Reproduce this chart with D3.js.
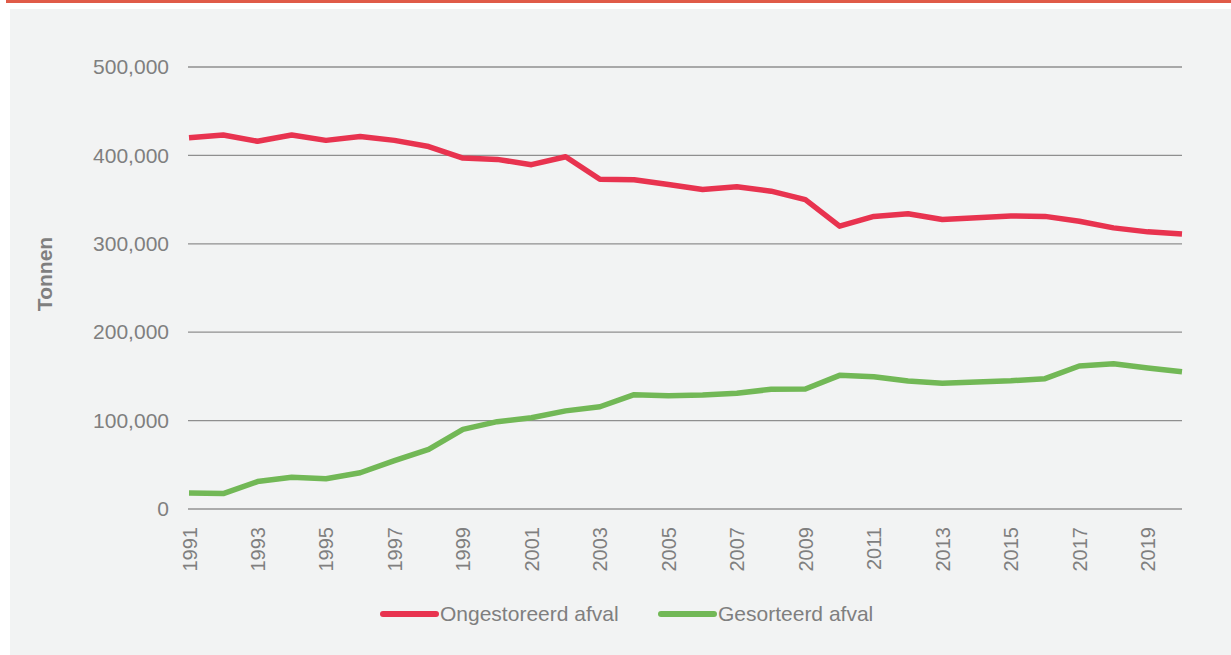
<!DOCTYPE html>
<html>
<head>
<meta charset="utf-8">
<script src="https://cdnjs.cloudflare.com/ajax/libs/d3/7.8.5/d3.min.js"></script>
<style>
  body { margin: 0; background: #ffffff; }
  svg { display: block; font-family: "Liberation Sans", Arial, sans-serif; }
</style>
</head>
<body>
<svg id="chart" width="1231" height="655"></svg>
<script>
// data (tonnes)
var years = d3.range(1991, 2021);
var ongestoreerd = [420000, 423000, 416000, 423000, 417000, 421500, 417000, 410000, 397000, 395500,
                    389500, 398500, 373000, 372500, 367000, 361500, 364500, 359500, 350000, 320000,
                    331000, 334000, 327500, 329500, 331500, 331000, 325500, 318000, 313500, 311000];
var gesorteerd = [18000, 17500, 31000, 36000, 34300, 41000, 54700, 67500, 90000, 98800,
                  103300, 111000, 115700, 129300, 128200, 129000, 131000, 135400, 135700, 151200,
                  149700, 144800, 142200, 143700, 145100, 147400, 161800, 164400, 159500, 155300];
var yTicks = [0, 100000, 200000, 300000, 400000, 500000];
var xTickLabels = d3.range(1991, 2020, 2);
var seriesNames = ['Ongestoreerd afval', 'Gesorteerd afval'];
var seriesColors = ['#e8334f', '#72b856'];

var svg = d3.select('#chart');

// frame: red bar on top, light panel
svg.append('rect').attr('x', 6).attr('y', 0).attr('width', 1225).attr('height', 3).attr('fill', '#e05b48');
svg.append('rect').attr('x', 10).attr('y', 9).attr('width', 1221).attr('height', 646).attr('fill', '#f2f3f3');

var x = d3.scaleLinear().domain([1991, 2020]).range([189, 1182]);
var y = d3.scaleLinear().domain([0, 500000]).range([509, 67]);

// gridlines
svg.selectAll('.grid').data(yTicks).enter()
    .append('line')
    .attr('class', 'grid')
    .attr('x1', 188)
    .attr('x2', 1182)
    .attr('y1', function(d) { return y(d); })
    .attr('y2', function(d) { return y(d); })
    .attr('stroke', function(d) { return d === 0 ? '#ababab' : '#8f8f8f'; })
    .attr('stroke-width', function(d) { return d === 0 ? 2 : 1.3; });

// y axis labels
var yAxis = d3.axisLeft(y).tickValues(yTicks).tickSize(0).tickPadding(0)
    .tickFormat(d3.format(','));
var yg = svg.append('g').attr('transform', 'translate(169,0)').call(yAxis);
yg.select('.domain').remove();
yg.selectAll('text')
    .attr('fill', '#7f7f7f')
    .attr('font-size', '21px')
    .attr('font-family', '"Liberation Sans", Arial, sans-serif');

// x axis labels, rotated
var xAxis = d3.axisBottom(x).tickValues(xTickLabels).tickSize(0).tickFormat(d3.format('d'));
var xg = svg.append('g').attr('transform', 'translate(0,509)').call(xAxis);
xg.select('.domain').remove();
xg.selectAll('text')
    .attr('fill', '#7f7f7f')
    .attr('font-size', '20px')
    .attr('font-family', '"Liberation Sans", Arial, sans-serif')
    .attr('text-anchor', 'end')
    .attr('dy', '0.35em')
    .attr('transform', 'translate(0,18) rotate(-90)')
    .attr('y', 0)
    .attr('x', 0);

// axis title
svg.append('text')
    .text('Tonnen')
    .attr('transform', 'translate(52,274) rotate(-90)')
    .attr('text-anchor', 'middle')
    .attr('font-size', '21px')
    .attr('font-weight', 'bold')
    .attr('fill', '#7f7f7f');

// lines
var line = d3.line()
    .x(function(d, i) { return x(years[i]); })
    .y(function(d) { return y(d); });

[ongestoreerd, gesorteerd].forEach(function(values, i) {
    svg.append('path')
        .datum(values)
        .attr('d', line)
        .attr('fill', 'none')
        .attr('stroke', seriesColors[i])
        .attr('stroke-width', 5.5)
        .attr('stroke-linejoin', 'round')
        .attr('stroke-linecap', 'butt');
});

// legend
var legendX = [381, 659];
var legend = svg.selectAll('.legend').data(seriesNames).enter()
    .append('g')
    .attr('class', 'legend')
    .attr('transform', function(d, i) { return 'translate(' + legendX[i] + ',614)'; });
legend.append('line')
    .attr('x1', 2).attr('x2', 55).attr('y1', 0).attr('y2', 0)
    .attr('stroke', function(d, i) { return seriesColors[i]; })
    .attr('stroke-width', 6)
    .attr('stroke-linecap', 'round');
legend.append('text')
    .text(function(d) { return d; })
    .attr('x', 59)
    .attr('dy', '0.35em')
    .attr('font-size', '21px')
    .attr('fill', '#7f7f7f');
</script>
</body>
</html>
